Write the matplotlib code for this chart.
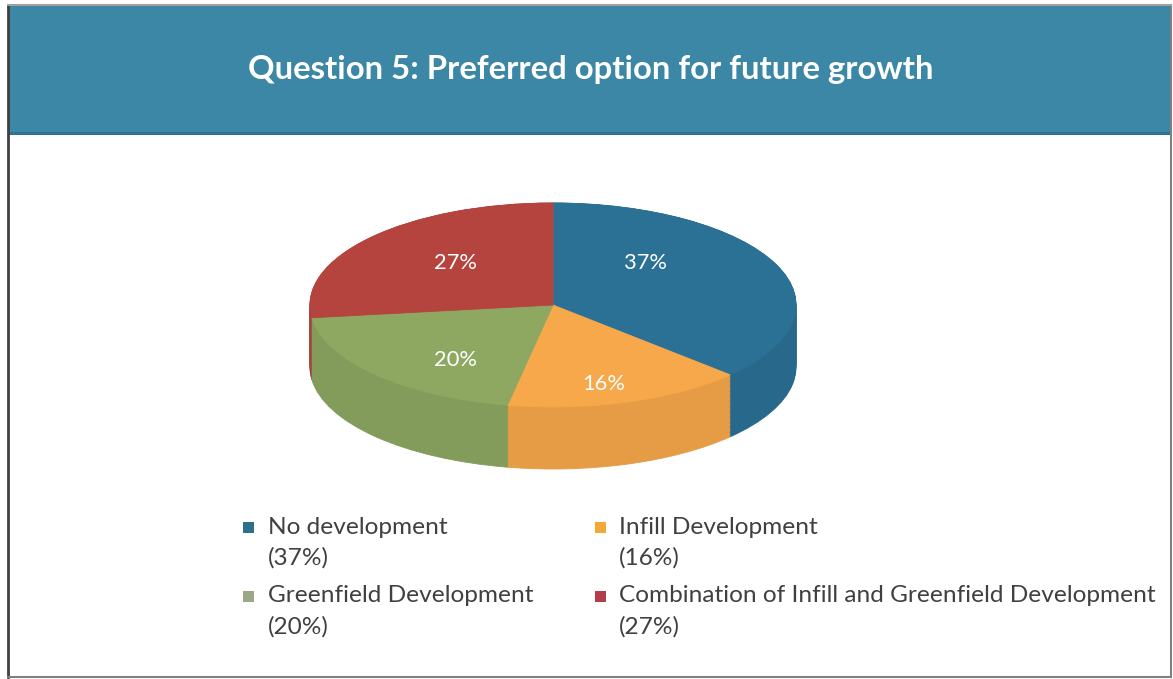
import matplotlib
matplotlib.use("Agg")
import matplotlib.pyplot as plt
from matplotlib.patches import Rectangle
from matplotlib.colors import to_rgb
import numpy as np

# ---- data ----
title = "Question 5: Preferred option for future growth"
categories = ["No development", "Infill Development", "Greenfield Development",
              "Combination of Infill and Greenfield Development"]
values = [37, 16, 20, 27]
colors = ["#2b7195", "#f6a84a", "#8ea862", "#b5443f"]
legend_colors = ["#2e6f8c", "#f1aa35", "#9aa888", "#b53c4a"]

W, H = 1173, 679
fig = plt.figure(figsize=(W / 100, H / 100), dpi=100)
fig.patch.set_facecolor("white")

# overlay axes in pixel coordinates (y downward)
bg = fig.add_axes([0, 0, 1, 1])
bg.set_xlim(0, W)
bg.set_ylim(H, 0)
bg.axis("off")

# banner and frame
bg.add_patch(Rectangle((9, 6), 1161, 129, facecolor="#3b87a5", edgecolor="none", zorder=1))
bg.add_patch(Rectangle((9, 132), 1161, 3, facecolor="#2f7390", edgecolor="none", zorder=2))
bg.plot([8, 8], [5, 677], color="#404040", lw=2.0, zorder=3)
bg.plot([1171, 1171], [5, 677], color="#808080", lw=1.5, zorder=3)
bg.plot([8, 1171], [4.5, 4.5], color="#a0a0a0", lw=1.5, zorder=3)
bg.plot([8, 1171], [677, 677], color="#808080", lw=1.5, zorder=3)

renderer = fig.canvas.get_renderer()


def fit_text(t, target_w):
    bb = t.get_window_extent(renderer=renderer)
    t.set_fontsize(t.get_fontsize() * target_w / bb.width)


tt = bg.text(591, 70, title, color="white", ha="center", va="center",
             fontsize=20, family="Lato", fontweight="bold", zorder=5)
fit_text(tt, 687)

# ---- 3D-ish pie ----
cx, cy, a, b, depth = 553, 305, 243, 102, 62
top_px = cy - b
bot_px = cy + b + depth
pax = fig.add_axes([(cx - a) / W, (H - bot_px) / H, 2 * a / W, (bot_px - top_px) / H])
dunits = depth / b


def darker(c, f):
    r, g, bl = to_rgb(c)
    return (r * f, g * f, bl * f)


def seal(ws):
    for w in ws:
        w.set_edgecolor(w.get_facecolor())
        w.set_linewidth(0.6)


side_colors = [darker(c, 0.93) for c in colors]
N = 50
for i in range(N + 1):
    d = dunits * (1 - i / N)
    ws, _ = pax.pie(values, colors=side_colors, startangle=90, counterclock=False,
                    center=(0, -d), radius=1)
    seal(ws)

wedges, texts, autotexts = pax.pie(
    values, colors=colors, startangle=90, counterclock=False, center=(0, 0), radius=1,
    autopct="%d%%", pctdistance=0.62,
    textprops=dict(color="white", fontsize=15, family="Lato"))
seal(wedges)
pax.set_aspect("auto")
pax.set_xlim(-1, 1)
pax.set_ylim(-1 - dunits, 1)
pax.axis("off")
for t in autotexts:
    fit_text(t, 43)
# label placement as in the reference's perspective view
label_pos = [(0.38, 0.41), (0.21, -0.77), (-0.40, -0.54), (-0.40, 0.41)]
for t, p in zip(autotexts, label_pos):
    t.set_position(p)

# ---- legend ----
col_x = [248, 600]
text_x = [268, 619]
row_y = [527, 596]
line_gap = 31
legend_texts = []
for i, (cat, v) in enumerate(zip(categories, values)):
    x = col_x[i % 2]
    tx = text_x[i % 2]
    y = row_y[i // 2]
    bg.add_patch(Rectangle((x - 5.5, y - 5), 11, 11, facecolor=legend_colors[i],
                           edgecolor="none", zorder=5))
    t1 = bg.text(tx, y, cat, color="#404040", ha="left", va="center",
                 fontsize=16, family="Lato", zorder=5)
    t2 = bg.text(tx, y + line_gap, f"({v}%)", color="#404040", ha="left", va="center",
                 fontsize=16, family="Lato", zorder=5)
    legend_texts += [t1, t2]

fit_text(legend_texts[6], 537)
fs = legend_texts[6].get_fontsize()
for t in legend_texts:
    t.set_fontsize(fs)

fig.savefig("out.png", dpi=100, facecolor="white")
